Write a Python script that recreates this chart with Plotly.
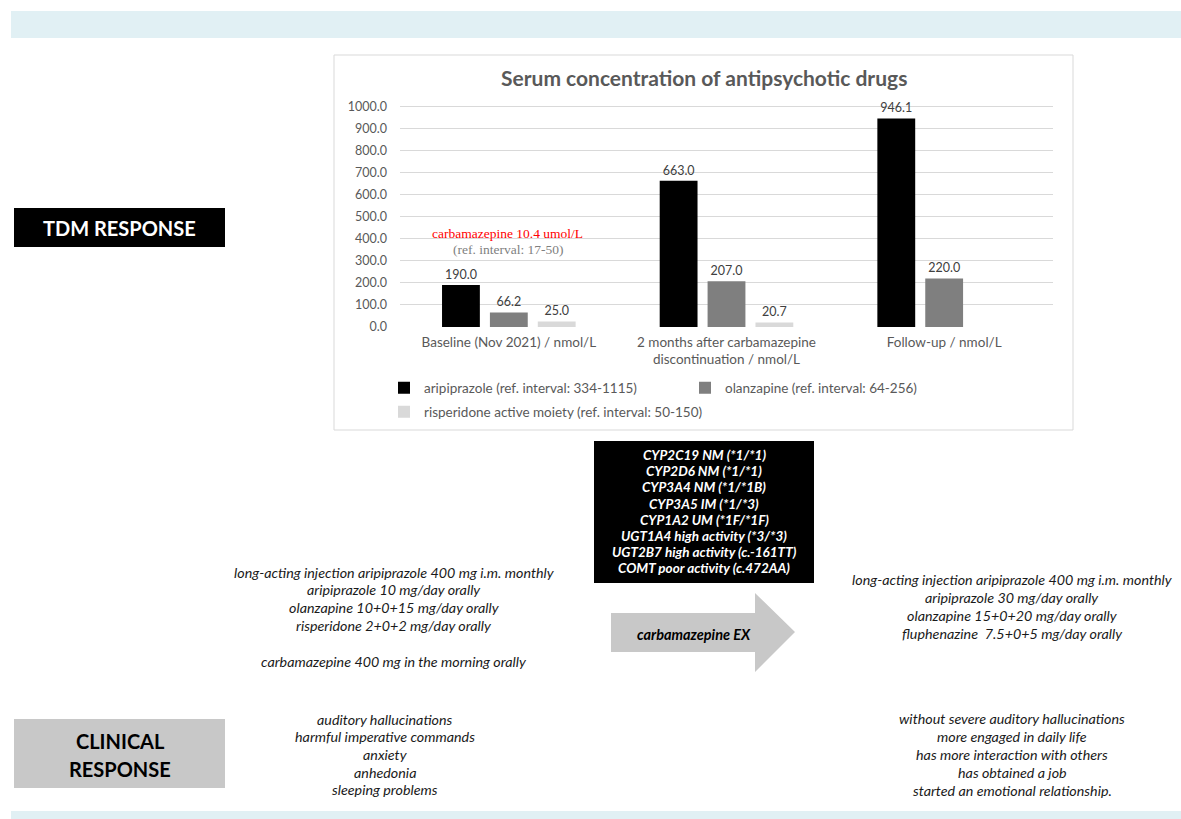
import plotly.graph_objects as go

W, H = 1181, 819

# ---------------- data ----------------
categories = ["Baseline (Nov 2021) / nmol/L",
              "2 months after carbamazepine<br>discontinuation / nmol/L",
              "Follow-up / nmol/L"]
series_names = ["aripiprazole (ref. interval: 334-1115)",
                "olanzapine (ref. interval: 64-256)",
                "risperidone active moiety (ref. interval: 50-150)"]
aripiprazole = [190.0, 663.0, 946.1]
olanzapine = [66.2, 207.0, 220.0]
risperidone = [25.0, 20.7, None]
y_ticks = [0, 100, 200, 300, 400, 500, 600, 700, 800, 900, 1000]

chart_title = "Serum concentration of antipsychotic drugs"
carba_note = "carbamazepine 10.4 umol/L"
carba_ref = "(ref. interval: 17-50)"

genotypes = ["CYP2C19 NM (*1/*1)", "CYP2D6 NM (*1/*1)", "CYP3A4 NM (*1/*1B)",
             "CYP3A5 IM (*1/*3)", "CYP1A2 UM (*1F/*1F)", "UGT1A4 high activity (*3/*3)",
             "UGT2B7 high activity (c.-161TT)", "COMT poor activity (c.472AA)"]
meds_before = ["long-acting injection aripiprazole 400 mg i.m. monthly",
               "aripiprazole 10 mg/day orally",
               "olanzapine 10+0+15 mg/day orally",
               "risperidone 2+0+2 mg/day orally"]
carba_before = "carbamazepine 400 mg in the morning orally"
meds_after = ["long-acting injection aripiprazole 400 mg i.m. monthly",
              "aripiprazole 30 mg/day orally",
              "olanzapine 15+0+20 mg/day orally",
              "fluphenazine  7.5+0+5 mg/day orally"]
clinical_before = ["auditory hallucinations", "harmful imperative commands",
                   "anxiety", "anhedonia", "sleeping problems"]
clinical_after = ["without severe auditory hallucinations", "more engaged in daily life",
                  "has more interaction with others", "has obtained a job",
                  "started an emotional relationship."]

# ---------------- helpers ----------------
def X(px):
    return px / W

def Y(py):
    return 1 - py / H

FONT = "Lato"
GRAY = "#595959"

fig = go.Figure()
colors = ["#000000", "#7f7f7f", "#d9d9d9"]
legend_ids = ["legend", "legend2", "legend3"]
for name, vals, col, lg in zip(series_names, [aripiprazole, olanzapine, risperidone], colors, legend_ids):
    fig.add_trace(go.Bar(
        x=categories, y=vals, name=name, marker=dict(color=col, line=dict(width=0)),
        texttemplate="%{y:.1f}", textposition="outside",
        textfont=dict(family=FONT, size=12.5, color="#404040"),
        cliponaxis=False, legend=lg,
    ))

ppu = (327 - 106.5) / 1000.0
ytop = 1005
fig.update_layout(
    width=W, height=H, margin=dict(l=0, r=0, t=0, b=0, pad=0, autoexpand=False),
    paper_bgcolor="white", plot_bgcolor="white",
    barmode="group", bargap=0.34, bargroupgap=0.21,
    font=dict(family=FONT, color=GRAY),
    xaxis=dict(domain=[X(400), X(1053)], showgrid=False, showline=False, automargin=False,
               tickfont=dict(family=FONT, size=13.5, color=GRAY), ticklabelstandoff=5),
    yaxis=dict(domain=[Y(327), Y(327 - ytop * ppu)], range=[0, ytop], automargin=False,
               tickvals=y_ticks, tickformat=".1f", showgrid=True, gridcolor="#d9d9d9",
               gridwidth=1, zeroline=False, showline=False,
               tickfont=dict(family=FONT, size=12.5, color=GRAY), ticklabelstandoff=12),
    showlegend=True,
)

leg_common = dict(orientation="h", xanchor="left", yanchor="middle",
                  bgcolor="rgba(0,0,0,0)", font=dict(family=FONT, size=13.5, color=GRAY),
                  itemclick=False, itemdoubleclick=False)
fig.update_layout(
    legend=dict(x=X(384), y=Y(388), **leg_common),
    legend2=dict(x=X(685), y=Y(388), **leg_common),
    legend3=dict(x=X(384), y=Y(412), **leg_common),
)

shapes = []
# top and bottom light bands
shapes.append(dict(type="rect", xref="paper", yref="paper", x0=X(11), x1=X(1181), y0=Y(38), y1=Y(11),
                   fillcolor="#e1f0f4", line=dict(width=0), layer="below"))
shapes.append(dict(type="rect", xref="paper", yref="paper", x0=X(11), x1=X(1181), y0=Y(819), y1=Y(811),
                   fillcolor="#e1f0f4", line=dict(width=0), layer="below"))
# chart frame
shapes.append(dict(type="rect", xref="paper", yref="paper", x0=X(334), x1=X(1073), y0=Y(430), y1=Y(55),
                   fillcolor="rgba(0,0,0,0)", line=dict(color="#d9d9d9", width=1), layer="below"))
# TDM response box
shapes.append(dict(type="rect", xref="paper", yref="paper", x0=X(14), x1=X(225), y0=Y(247), y1=Y(208),
                   fillcolor="#000000", line=dict(width=0)))
# clinical response box
shapes.append(dict(type="rect", xref="paper", yref="paper", x0=X(14), x1=X(225), y0=Y(788), y1=Y(719),
                   fillcolor="#c8c8c8", line=dict(width=0)))
# genotype box
shapes.append(dict(type="rect", xref="paper", yref="paper", x0=X(594), x1=X(814), y0=Y(583), y1=Y(441),
                   fillcolor="#000000", line=dict(width=0)))
# arrow
pts = [(611, 613), (755, 613), (755, 593), (795, 632), (755, 672), (755, 652), (611, 652)]
path = "M " + " L ".join(f"{X(a):.5f},{Y(b):.5f}" for a, b in pts) + " Z"
shapes.append(dict(type="path", xref="paper", yref="paper", path=path,
                   fillcolor="#c8c8c8", line=dict(width=0)))
fig.update_layout(shapes=shapes)

ann = []
def txt(text, px, py, size, color="#1a1a1a", family=FONT, bold=False, italic=False, xanchor="center"):
    t = text
    if bold:
        t = "<b>" + t + "</b>"
    if italic:
        t = "<i>" + t + "</i>"
    ann.append(dict(text=t, x=X(px), y=Y(py), xref="paper", yref="paper", showarrow=False,
                    xanchor=xanchor, yanchor="middle", font=dict(family=family, size=size, color=color)))

txt(chart_title, 704, 77, 21, color=GRAY, bold=True)
txt(carba_note, 507, 233, 13.5, color="#ff0000", family="Liberation Serif")
txt(carba_ref, 508, 249, 13.5, color="#808080", family="Liberation Serif")

txt("TDM RESPONSE", 119, 228, 20, color="#ffffff", bold=True)
txt("CLINICAL", 120, 741, 20, color="#000000", bold=True)
txt("RESPONSE", 120, 769, 20, color="#000000", bold=True)

for i, g in enumerate(genotypes):
    txt(g, 704, 455 + i * 16.2, 13.5, color="#ffffff", bold=True, italic=True)

txt("carbamazepine EX", 694, 634, 14.5, color="#000000", bold=True, italic=True)

BODY = 14.3
for i, s in enumerate(meds_before):
    txt(s, 394, 572 + i * 17.7, BODY, italic=True)
txt(carba_before, 394, 661, BODY, italic=True)
for i, s in enumerate(meds_after):
    txt(s, 1012, 579 + i * 18.2, BODY, italic=True)
for i, s in enumerate(clinical_before):
    txt(s, 385, 719 + i * 17.7, BODY, italic=True)
for i, s in enumerate(clinical_after):
    txt(s, 1012, 718 + i * 18, BODY, italic=True)

fig.update_layout(annotations=ann)
fig.write_html("out.html", post_script="document.body.style.margin='0';document.body.style.overflow='hidden';")
